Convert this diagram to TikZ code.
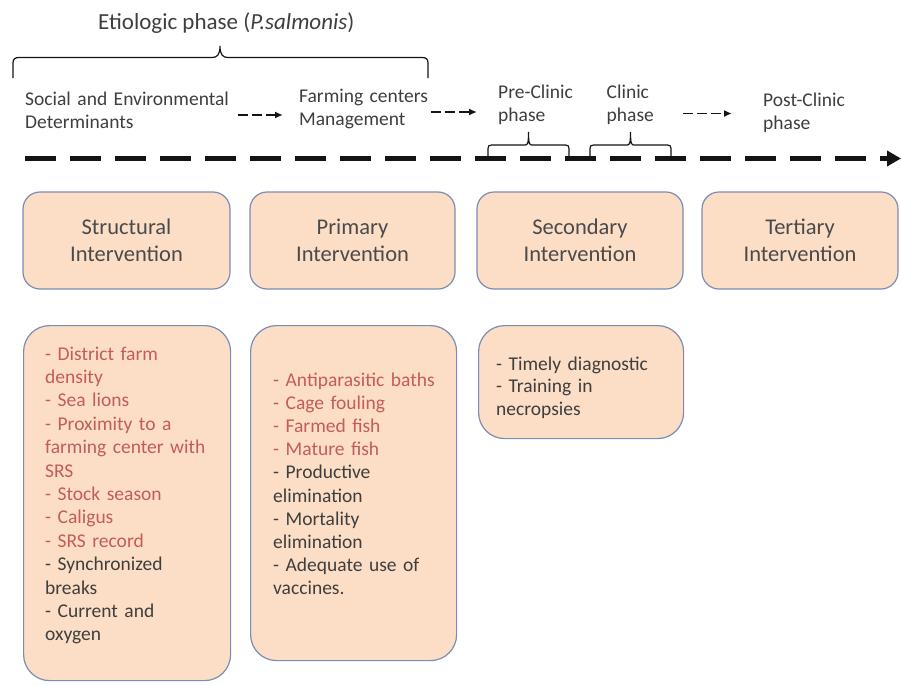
\documentclass[tikz,border=0pt]{standalone}
\usepackage{fontspec}
\setmainfont{Carlito}
\usetikzlibrary{arrows.meta}
\definecolor{boxfill}{RGB}{252,222,198}
\definecolor{boxborder}{RGB}{122,142,178}
\definecolor{redtext}{RGB}{196,92,88}
\definecolor{darktext}{RGB}{62,62,62}
\definecolor{headtext}{RGB}{74,74,74}
\definecolor{linecol}{RGB}{20,20,20}
\begin{document}
\begin{tikzpicture}[x=1pt,y=-1pt,
  hbox/.style={draw=boxborder, fill=boxfill, line width=1.2pt, rounded corners=17pt,
    align=center, text width=190pt, font=\fontsize{22.5}{27}\selectfont, text=headtext, inner sep=0pt},
  lbox/.style={draw=boxborder, fill=boxfill, line width=1.2pt, rounded corners=26pt, inner sep=0pt, anchor=north west},
  lbl/.style={align=left, text width=230pt, font=\fontsize{19.5}{23}\selectfont, text=darktext, inner sep=0pt, anchor=base west},
  ltext/.style={align=left, text width=185pt, text=darktext, inner sep=0pt, anchor=base west},
  phasearrow/.style={draw=linecol, line width=1.6pt, dash pattern=on 9.5pt off 4.5pt, -{Latex[length=8pt,width=7pt]}},
  timeline/.style={draw=linecol, line width=4.5pt, dash pattern=on 31pt off 14pt, -{Triangle[length=14pt,width=15pt]}},
  bracepath/.style={draw=linecol, line width=1.2pt}
]
\useasboundingbox (0,0) rectangle (901,685);

% title
\node[anchor=base west, inner sep=0pt, font=\fontsize{23}{27}\selectfont, text=darktext] (title) at (98,30) {Etiologic phase (\textit{P.salmonis})};

% big brace
\draw[bracepath] (13,78) -- (13,63) .. controls (13,59) and (15,57.5) .. (19,57.5) -- (212,57.5)
  .. controls (217,57.5) and (220,55) .. (220,46)
  .. controls (220,55) and (223,57.5) .. (228,57.5) -- (422,57.5)
  .. controls (426,57.5) and (428,59) .. (428,63) -- (428,78);

% phase labels
\node[lbl] (sed) at (25,105) {Social and Environmental\\Determinants};
\node[lbl] (fcm) at (299,102.5) {Farming centers\\Management};
\node[lbl] (pre) at (498,98.5) {Pre-Clinic\\phase};
\node[lbl] (cli) at (606.5,98.5) {Clinic\\phase};
\node[lbl] (post) at (763,106) {Post-Clinic\\phase};

% dashed arrows between phases
\coordinate (a1s) at (238,115);  \coordinate (a1e) at (283,115);
\coordinate (a2s) at (431,112);  \coordinate (a2e) at (477,112);
\coordinate (a3s) at (683,113.5);\coordinate (a3e) at (732,113.5);
\draw[phasearrow] (a1s) -- (a1e);
\draw[phasearrow] (a2s) -- (a2e);
\draw[phasearrow] (a3s) -- (a3e);

% timeline
\coordinate (tl0) at (25,158.5);
\coordinate (tl1) at (901,158.5);
\draw[timeline] (tl0) -- (tl1);

% small brackets
\draw[bracepath] (488,158) -- (488,148.5) .. controls (488,146) and (489,145) .. (491.5,145) -- (525,145)
  .. controls (527.5,145) and (528.5,144) .. (528.5,132)
  .. controls (528.5,144) and (529.5,145) .. (532,145) -- (565.5,145)
  .. controls (568,145) and (569,146) .. (569,148.5) -- (569,158);
\draw[bracepath] (590,158) -- (590,148.5) .. controls (590,146) and (591,145) .. (593.5,145) -- (627,145)
  .. controls (629.5,145) and (630.5,144) .. (630.5,132)
  .. controls (630.5,144) and (631.5,145) .. (634,145) -- (667.5,145)
  .. controls (670,145) and (671,146) .. (671,148.5) -- (671,158);

% intervention boxes
\node[hbox, minimum width=207pt, minimum height=97pt] (hs) at (126.5,240.5) {Structural\\Intervention};
\node[hbox, minimum width=205pt, minimum height=97pt] (hp) at (352.5,240.5) {Primary\\Intervention};
\node[hbox, minimum width=206pt, minimum height=97pt] (hsec) at (580,240.5) {Secondary\\Intervention};
\node[hbox, minimum width=196pt, minimum height=97pt] (ht) at (800,240.5) {Tertiary\\Intervention};

% list boxes
\node[lbox, minimum width=207pt, minimum height=355pt] (ls) at (23,325) {};
\node[lbox, minimum width=206pt, minimum height=335pt] (lp) at (250,325) {};
\node[lbox, minimum width=205pt, minimum height=113pt] (lsec) at (478,325) {};

\node[ltext, font=\fontsize{19.5}{23.4}\selectfont] (lst) at (45,360) {\color{redtext}- District farm\\density\\- Sea lions\\- Proximity to a\\farming center with\\SRS\\- Stock season\\- Caligus\\- SRS record\\\color{darktext}- Synchronized\\breaks\\- Current and\\oxygen};
\node[ltext, font=\fontsize{19.5}{23.2}\selectfont] (lpt) at (273,386) {\color{redtext}- Antiparasitic baths\\- Cage fouling\\- Farmed fish\\- Mature fish\\\color{darktext}- Productive\\elimination\\- Mortality\\elimination\\- Adequate use of\\vaccines.};
\node[ltext, font=\fontsize{19.5}{22.5}\selectfont] (lsect) at (496,370) {- Timely diagnostic\\- Training in\\necropsies};
\end{tikzpicture}
\end{document}
